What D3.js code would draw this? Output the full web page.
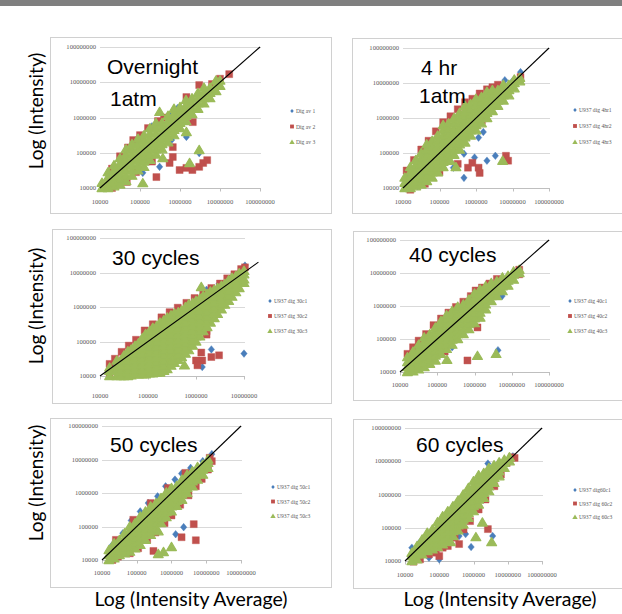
<!DOCTYPE html>
<html>
<head>
<meta charset="utf-8">
<script src="https://cdn.jsdelivr.net/npm/d3@7"></script>
<style>body{margin:0;background:#fff}</style>
</head>
<body>
<div id="chart"></div>
<script>
var tickLabels = ["10000", "100000", "1000000", "10000000", "100000000"];
var yTitle = "Log (Intensity)";
var xTitle = "Log (Intensity Average)";
var titles = [["Overnight", "1atm"], ["4 hr", "1atm"], ["30 cycles"], ["40 cycles"], ["50 cycles"], ["60 cycles"]];
var legends = [
	["Dig av 1", "Dig av 2", "Dig av 3"],
	["U937 dig 4hr1", "U937 dig 4hr2", "U937 dig 4hr3"],
	["U937 dig 30c1", "U937 dig 30c2", "U937 dig 30c3"],
	["U937 dig 40c1", "U937 dig 40c2", "U937 dig 40c3"],
	["U937 dig 50c1", "U937 dig 50c2", "U937 dig 50c3"],
	["U937 dig60c1", "U937 dig 60c2", "U937 dig 60c3"]
];
var xMaxExp = [8, 8, 7, 8, 8, 8];
var diagEnd = [8, 8, 7.3, 8, 8, 8];

// Overnight 1atm
var p1Blue = "4.2:4.1 4.5:4.3 4.9:5.35 5.07:4.43 5.3:5.75 5.49:4.6 5.74:6.07 5.79:5.36 5.94:6.27 6.16:5.45 6.48:4.99 6.6:6.5 6.9:7.0";
var p1Red = "4.1:4.05 4.3:4.0,4.55 4.45:4.17 4.67:4.17 4.5:4.9 4.7:5.15 4.83:5.36 4.9:4.45 5.0:5.5 5.07:4.79 5.2:5.7 5.3:4.75 5.41:4.31 5.45:5.9 5.6:6.0 5.74:4.71 5.82:4.88,5.16 5.99:4.51 6.16:4.57,6.58 6.31:4.51 6.32:5.87 6.48:4.6,6.92 6.58:4.71 6.68:4.79 6.8:6.95 7.0:7.1 7.23:7.23";
var p1Green = "4.05:4.0,4.15 4.2:4.0,4.15,4.3,4.45 4.35:4.05,4.2,4.35,4.5,4.65 4.5:4.1,4.25,4.4,4.55,4.7,4.85 4.65:4.2,4.35,4.5,4.65,4.8,4.95,5.1 4.8:4.35,4.5,4.65,4.8,4.95,5.1,5.25 4.95:4.5,4.65,4.8,4.95,5.1,5.25,5.4 5.1:4.6,4.75,4.9,5.05,5.2,5.35,5.5 5.25:4.8,4.95,5.1,5.25,5.4,5.55,5.7 5.4:4.95,5.1,5.25,5.4,5.55,5.7,5.85 5.55:5.1,5.25,5.4,5.55,5.7,5.85 5.7:5.3,5.45,5.6,5.75,5.9,6.05 5.85:5.5,5.65,5.8,5.95,6.1,6.25 6.0:5.7,5.85,6.0,6.15,6.3 6.15:5.9,6.05,6.2,6.35,6.5 6.3:6.1,6.25,6.4,6.55 6.45:6.25,6.4,6.55,6.7 6.6:6.4,6.55,6.7,6.85 6.75:6.55,6.7,6.85 6.9:6.75,6.9,7.05 7.0:6.9,7.05 5.07:4.14 5.49:6.16 5.57:4.85 6.16:5.59 6.24:4.71 6.48:5.08";

// 4 hr 1atm
var p2Blue = "4.1:4.35 4.4:4.05 4.8:5.25 5.38:4.58 5.67:4.98,4.29 5.96:4.87 6.07:5.44 6.2:5.6 6.3:4.78 6.53:4.92 6.79:7.08 7.02:7.08 7.22:7.31";
var p2Red = "4.1:4.5 4.3:4.8 4.5:5.1 4.7:5.35 4.9:5.62 5.1:5.88 5.3:6.05 5.5:6.25 5.7:6.45 5.9:6.55 6.1:6.7 6.3:6.82 6.45:6.88 6.6:6.95 7.22:7.17 4.2:3.95 4.6:4.12 5.0:4.45 5.5:4.69 5.78:4.58 6.07:4.58 6.1:4.43 6.16:5.93 6.82:4.92 6.88:4.78 5.9:4.72";
var p2Green = "4.05:4.0,4.15,4.3 4.2:4.0,4.15,4.3,4.45,4.6 4.35:4.05,4.2,4.35,4.5,4.65,4.8 4.5:4.1,4.25,4.4,4.55,4.7,4.85,5.0 4.65:4.2,4.35,4.5,4.65,4.8,4.95,5.1,5.25 4.8:4.3,4.45,4.6,4.75,4.9,5.05,5.2,5.35 4.95:4.45,4.6,4.75,4.9,5.05,5.2,5.35,5.5 5.1:4.6,4.75,4.9,5.05,5.2,5.35,5.5,5.65,5.8 5.25:4.8,4.95,5.1,5.25,5.4,5.55,5.7,5.85 5.4:4.95,5.1,5.25,5.4,5.55,5.7,5.85,6.0 5.55:5.1,5.25,5.4,5.55,5.7,5.85,6.0,6.15 5.7:5.3,5.45,5.6,5.75,5.9,6.05,6.2,6.35 5.85:5.5,5.65,5.8,5.95,6.1,6.25,6.4 6.0:5.65,5.8,5.95,6.1,6.25,6.4,6.55 6.15:5.85,6.0,6.15,6.3,6.45,6.6 6.3:6.0,6.15,6.3,6.45,6.6,6.75 6.45:6.2,6.35,6.5,6.65,6.8 6.6:6.35,6.5,6.65,6.8 6.75:6.5,6.65,6.8,6.95 6.9:6.65,6.8,6.95 7.05:6.85,7.0,7.1 7.2:7.05,7.15 5.29:4.78 6.73:4.78 5.45:4.6";

// 30 cycles
var p3Blue = "4.25:4.3 5.8:4.82 6.13:4.26 6.22:6.5 6.32:4.77 6.48:6.67 7.0:4.65 7.02:7.2";
var p3Red = "4.2:4.35 4.31:4.5 4.45:4.7 4.6:4.88 4.75:5.05 4.93:5.32 5.1:5.5 5.28:5.7 5.45:5.85 5.62:5.98 5.8:6.12 5.97:6.26 6.15:6.4 6.32:6.55 6.5:6.68 6.65:6.83 6.8:6.95 6.94:7.1 7.02:7.15 6.22:5.3,5.2 6.11:4.68 6.32:4.55 6.48:4.6 6.13:4.45 6.0:4.45 6.03:4.31 5.18:4.17 5.55:4.48 4.2:4.1";
var p3Green = "4.2:4.0,4.15,4.25 4.35:4.0,4.15,4.3,4.45 4.5:4.0,4.15,4.3,4.45,4.6 4.65:4.02,4.17,4.32,4.47,4.62,4.77 4.8:4.05,4.2,4.35,4.5,4.65,4.8,4.95 4.95:4.05,4.2,4.35,4.5,4.65,4.8,4.95,5.1,5.22 5.1:4.08,4.23,4.38,4.53,4.68,4.83,4.98,5.13,5.28,5.4 5.25:4.1,4.25,4.4,4.55,4.7,4.85,5.0,5.15,5.3,5.45,5.55 5.4:4.2,4.35,4.5,4.65,4.8,4.95,5.1,5.25,5.4,5.55,5.7 5.55:4.38,4.53,4.68,4.83,4.98,5.13,5.28,5.43,5.58,5.72,5.82 5.7:4.55,4.7,4.85,5.0,5.15,5.3,5.45,5.6,5.75,5.9 5.85:4.75,4.9,5.05,5.2,5.35,5.5,5.65,5.8,5.95,6.08 6.0:5.0,5.15,5.3,5.45,5.6,5.75,5.9,6.05,6.18 6.15:5.3,5.45,5.6,5.75,5.9,6.05,6.2,6.32 6.3:5.55,5.7,5.85,6.0,6.15,6.3,6.45 6.45:5.8,5.95,6.1,6.25,6.4,6.55 6.6:6.07,6.22,6.37,6.52,6.67 6.75:6.3,6.45,6.6,6.75,6.85 6.9:6.55,6.7,6.85,6.98 7.0:6.8,6.95,7.05 " +
	"4.43:4.0,4.15,4.3,4.45 4.58:4.0,4.15,4.3,4.45,4.6,4.72 4.73:4.05,4.2,4.35,4.5,4.65,4.8,4.88 4.88:4.05,4.2,4.35,4.5,4.65,4.8,4.95,5.1 5.03:4.08,4.23,4.38,4.53,4.68,4.83,4.98,5.13,5.3 5.18:4.1,4.25,4.4,4.55,4.7,4.85,5.0,5.15,5.3,5.45 5.33:4.15,4.3,4.45,4.6,4.75,4.9,5.05,5.2,5.35,5.5,5.62 5.48:4.3,4.45,4.6,4.75,4.9,5.05,5.2,5.35,5.5,5.65,5.76 5.63:4.47,4.62,4.77,4.92,5.07,5.22,5.37,5.52,5.67,5.85 5.78:4.65,4.8,4.95,5.1,5.25,5.4,5.55,5.7,5.85,6.0 5.93:4.88,5.03,5.18,5.33,5.48,5.63,5.78,5.93,6.12 6.08:5.15,5.3,5.45,5.6,5.75,5.9,6.05,6.25 6.23:5.42,5.57,5.72,5.87,6.02,6.17,6.38 6.38:5.68,5.83,5.98,6.13,6.28,6.5 6.53:5.93,6.08,6.23,6.38,6.62 6.68:6.18,6.33,6.48,6.63,6.78 6.83:6.43,6.58,6.73,6.9 " +
	"5.51:4.45 5.76:4.31 6.11:6.58 7.0:6.7";

// 40 cycles
var p4Blue = "4.5:4.15 5.4:4.75 5.7:5.15 6.08:5.64 6.16:5.78 6.63:4.66 6.74:6.3 6.9:6.65";
var p4Red = "4.2:4.55 4.35:4.75 4.5:4.95 4.7:5.15 4.9:5.42 5.1:5.62 5.3:5.8 5.5:5.97 5.7:6.13 5.9:6.3 6.03:6.47 6.2:6.56 6.4:6.68 6.6:6.82 4.3:4.05 4.6:4.2 5.2:4.62 5.81:4.35 6.08:5.35 7.2:6.96,7.1";
var p4Green = "4.2:4.0,4.15,4.3,4.45 4.35:4.02,4.17,4.32,4.47,4.62 4.5:4.08,4.23,4.38,4.53,4.68,4.83 4.65:4.15,4.3,4.45,4.6,4.75,4.9,5.05 4.8:4.25,4.4,4.55,4.7,4.85,5.0,5.15 4.95:4.35,4.5,4.65,4.8,4.95,5.1,5.25,5.35 5.1:4.55,4.7,4.85,5.0,5.15,5.3,5.45,5.55 5.25:4.7,4.85,5.0,5.15,5.3,5.45,5.6,5.72 5.4:4.83,4.98,5.13,5.28,5.43,5.58,5.72,5.85 5.55:5.0,5.15,5.3,5.45,5.6,5.75,5.9,5.98 5.7:5.15,5.3,5.45,5.6,5.75,5.9,6.05 5.85:5.3,5.45,5.6,5.75,5.9,6.05,6.2 6.0:5.48,5.63,5.78,5.93,6.08,6.23,6.38 6.15:5.65,5.8,5.95,6.1,6.25,6.4,6.5 6.3:5.9,6.05,6.2,6.35,6.5,6.6 6.45:6.15,6.3,6.45,6.6,6.7 6.6:6.3,6.45,6.6,6.75 6.75:6.45,6.6,6.75,6.87 6.9:6.62,6.77,6.92 7.05:6.8,6.95,7.05 7.2:7.0,7.1 6.58:4.55 6.08:4.49 5.26:4.37";

// 50 cycles
var p5Blue = "4.3:4.45 4.6:4.8 4.84:5.18 5.1:5.45 5.33:5.7 5.6:5.9 5.83:6.2 6.1:6.4 6.29:6.58 6.55:6.75 6.9:6.95 7.16:7.16 6.12:4.77 6.35:4.98 5.4:4.9";
var p5Red = "4.3:4.0 4.46:4.1 4.8:4.2 5.04:4.35 5.3:4.6 5.54:4.82 5.8:5.1 6.0:5.33 6.25:5.65 6.49:5.93 6.7:6.2 6.87:6.42 7.05:6.7 7.16:6.95 4.4:4.6 4.9:5.2 5.4:5.7 5.9:6.15 6.4:6.6 7.1:7.05 6.64:5.07 6.7:4.59 6.29:4.68 5.48:4.27";
var p5Green = "4.2:4.0,4.15,4.3 4.35:4.05,4.2,4.35,4.5 4.5:4.15,4.3,4.45,4.6 4.65:4.2,4.35,4.5,4.65,4.8 4.8:4.25,4.4,4.55,4.7,4.85,5.0 4.95:4.35,4.5,4.65,4.8,4.95,5.1 5.1:4.45,4.6,4.75,4.9,5.05,5.2,5.3 5.25:4.6,4.75,4.9,5.05,5.2,5.35,5.45 5.4:4.75,4.9,5.05,5.2,5.35,5.5,5.6 5.55:4.95,5.1,5.25,5.4,5.55,5.7 5.7:5.1,5.25,5.4,5.55,5.7,5.85 5.85:5.28,5.43,5.58,5.73,5.88,6.02 6.0:5.45,5.6,5.75,5.9,6.05,6.15 6.15:5.62,5.77,5.92,6.07,6.22 6.3:5.8,5.95,6.1,6.25,6.4 6.45:6.0,6.15,6.3,6.45,6.55 6.6:6.2,6.35,6.5,6.65 6.75:6.4,6.55,6.7,6.78 6.9:6.55,6.7,6.85 7.05:6.75,6.9,7.0 5.77:4.24 5.62:4.18,4.86 6.0:4.39";

// 60 cycles
var p6Blue = "4.2:4.4 4.44:4.57 4.7:4.1 5.0:4.05 5.58:4.75 5.77:4.81 5.93:4.42 6.29:5.85 6.42:6.93 6.56:4.75 7.15:7.15";
var p6Red = "4.25:3.98 4.44:4.05 4.7:4.2 4.9:4.25 5.1:4.4 5.25:4.45 5.45:4.7 5.71:4.95 5.9:5.2 6.15:5.55 6.35:5.85 6.61:6.25 6.8:6.6 6.97:6.95 7.12:7.12 5.58:4.51 6.42:4.96 5.0:4.15 7.2:7.1";
var p6Green = "4.2:4.0,4.15,4.25 4.35:4.05,4.2,4.35,4.45 4.5:4.2,4.35,4.5,4.65 4.65:4.3,4.45,4.6,4.75,4.85 4.8:4.35,4.5,4.65,4.8,4.95 4.95:4.42,4.57,4.72,4.87,5.02,5.17 5.1:4.5,4.65,4.8,4.95,5.1,5.25,5.35 5.25:4.6,4.75,4.9,5.05,5.2,5.35,5.5 5.4:4.75,4.9,5.05,5.2,5.35,5.5,5.65 5.55:4.92,5.07,5.22,5.37,5.52,5.67,5.82 5.7:5.1,5.25,5.4,5.55,5.7,5.85,6.0 5.85:5.3,5.45,5.6,5.75,5.9,6.05,6.2 6.0:5.5,5.65,5.8,5.95,6.1,6.25,6.4 6.15:5.7,5.85,6.0,6.15,6.3,6.45,6.58 6.3:5.9,6.05,6.2,6.35,6.5,6.65 6.45:6.1,6.25,6.4,6.55,6.7,6.8 6.6:6.35,6.5,6.65,6.8,6.88 6.75:6.55,6.7,6.85,6.97 6.9:6.8,6.95,7.05 7.05:7.0,7.12 5.66:5.1 6.26:5.16 6.07:4.72 6.53:4.57 5.33:4.57";

var panelData = [
	[p1Blue, p1Red, p1Green],
	[p2Blue, p2Red, p2Green],
	[p3Blue, p3Red, p3Green],
	[p4Blue, p4Red, p4Green],
	[p5Blue, p5Red, p5Green],
	[p6Blue, p6Red, p6Green]
];

// page layout of each panel (pixels)
var layout = [
	{frame: [50, 37, 331, 213], x: [100, 260], y: [188, 47], xl: 204, t: [[107, 74], [110, 106]], lg: [292, 111, 15.5], yt: 111},
	{frame: [352, 38, 640, 213], x: [403, 549], y: [188, 48], xl: 204, t: [[421, 75], [419, 103]], lg: [575, 110, 16]},
	{frame: [52, 229, 331, 403], x: [100, 244], y: [376, 238], xl: 398, t: [[112, 265]], lg: [270, 301, 15], yt: 306},
	{frame: [353, 231, 640, 400], x: [400, 549], y: [372, 240], xl: 387, t: [[409, 262]], lg: [570, 301, 15]},
	{frame: [50, 418, 331, 587], x: [102, 241], y: [560, 426], xl: 575, t: [[110, 452]], lg: [273, 487, 14.5], yt: 483, xt: 191},
	{frame: [353, 419, 640, 588], x: [405, 542], y: [561, 428], xl: 577, t: [[416, 452]], lg: [575, 490, 13.5], xt: 500}
];

var colors = ["#4a7ebb", "#c0504d", "#9bbb59"];
var shapes = [
	"M0,-3.8L3.2,0L0,3.8L-3.2,0Z",
	"M-3.5,-3.5h7v7h-7z",
	"M0,-4.6L4.9,3.6L-4.9,3.6Z"
];

function parse(s){
	var pts = [];
	s.trim().split(/\s+/).forEach(function(col){
		var parts = col.split(":");
		parts[1].split(",").forEach(function(v){
			pts.push([+parts[0], +v]);
		});
	});
	return pts;
}

function init(){
	var svg = d3.select("#chart")
				.append("svg")
				.attr("width", 622)
				.attr("height", 614)
				.style("display", "block");

	svg.append("rect").attr("width", 622).attr("height", 6).attr("fill", "#7f7f7f");

	layout.forEach(function(L, i){
		var g = svg.append("g");
		g.append("rect")
			.attr("x", L.frame[0] + 0.5).attr("y", L.frame[1] + 0.5)
			.attr("width", L.frame[2] - L.frame[0]).attr("height", L.frame[3] - L.frame[1])
			.attr("fill", "#fff").attr("stroke", "#d0d0d0");

		var x = d3.scaleLog().domain([1e4, Math.pow(10, xMaxExp[i])]).range(L.x);
		var y = d3.scaleLog().domain([1e4, 1e8]).range(L.y);
		var decades = [1e4, 1e5, 1e6, 1e7, 1e8];
		var xDecades = decades.slice(0, xMaxExp[i] - 3);

		//gridlines
		g.selectAll(".grid").data(decades.slice(1)).enter().append("line")
			.attr("x1", L.x[0]).attr("x2", L.x[1] + 1)
			.attr("y1", function(d){ return Math.round(y(d)) + 0.5; })
			.attr("y2", function(d){ return Math.round(y(d)) + 0.5; })
			.attr("stroke", "#d9d9d9");

		//x axis
		var base = Math.round(y(1e4)) + 0.5;
		g.append("line").attr("x1", L.x[0]).attr("x2", L.x[1] + 1)
			.attr("y1", base).attr("y2", base).attr("stroke", "#bfbfbf");
		g.selectAll(".tk").data(xDecades).enter().append("line")
			.attr("x1", function(d){ return Math.round(x(d)) + 0.5; })
			.attr("x2", function(d){ return Math.round(x(d)) + 0.5; })
			.attr("y1", base).attr("y2", base + 3).attr("stroke", "#bfbfbf");

		g.selectAll(".yl").data(decades).enter().append("text")
			.attr("x", L.x[0] - 4)
			.attr("y", function(d){ return y(d) + 2.2; })
			.attr("text-anchor", "end")
			.style("font", "6.6px 'Liberation Serif'").attr("fill", "#595959")
			.text(function(d, k){ return tickLabels[k]; });

		g.selectAll(".xl").data(xDecades).enter().append("text")
			.attr("x", function(d){ return x(d); })
			.attr("y", L.xl)
			.attr("text-anchor", "middle")
			.style("font", "6.6px 'Liberation Serif'").attr("fill", "#595959")
			.text(function(d, k){ return tickLabels[k]; });

		//points, series drawn in order so green ends on top
		panelData[i].forEach(function(s, k){
			g.append("g").selectAll("path")
				.data(parse(s))
				.enter()
				.append("path")
				.attr("d", shapes[k])
				.attr("fill", colors[k])
				.attr("stroke", colors[k])
				.attr("stroke-width", k == 2 ? 1.2 : 0.4)
				.attr("stroke-linejoin", "round")
				.attr("transform", function(d){
					return "translate(" + x(Math.pow(10, d[0])) + "," + y(Math.pow(10, d[1])) + ")";
				});
		});

		//y = x line
		var e = Math.pow(10, diagEnd[i]);
		g.append("line")
			.attr("x1", x(1e4)).attr("y1", y(1e4))
			.attr("x2", x(e)).attr("y2", y(e))
			.attr("stroke", "#000").attr("stroke-width", 1.1);

		titles[i].forEach(function(t, k){
			g.append("text").attr("x", L.t[k][0]).attr("y", L.t[k][1])
				.style("font", "21px 'Liberation Sans', Arial").attr("fill", "#000")
				.text(t);
		});

		legends[i].forEach(function(t, k){
			var ly = L.lg[1] + k * L.lg[2];
			g.append("path").attr("d", shapes[k])
				.attr("transform", "translate(" + L.lg[0] + "," + ly + ") scale(0.55)")
				.attr("fill", colors[k]);
			g.append("text").attr("x", L.lg[0] + 4).attr("y", ly + 2)
				.style("font", "5.6px 'Liberation Serif'").attr("fill", "#595959")
				.text(t);
		});

		if (L.yt) {
			svg.append("text")
				.attr("transform", "translate(36," + L.yt + ") rotate(-90)")
				.attr("text-anchor", "middle").attr("dy", "0.35em")
				.style("font", "19px Lato, 'Open Sans', sans-serif").attr("fill", "#000")
				.text(yTitle);
		}
		if (L.xt) {
			svg.append("text")
				.attr("x", L.xt).attr("y", 606)
				.attr("text-anchor", "middle")
				.style("font", "19.5px Lato, 'Open Sans', sans-serif").attr("fill", "#000")
				.text(xTitle);
		}
	});
}

window.onload = init;
</script>
</body>
</html>
